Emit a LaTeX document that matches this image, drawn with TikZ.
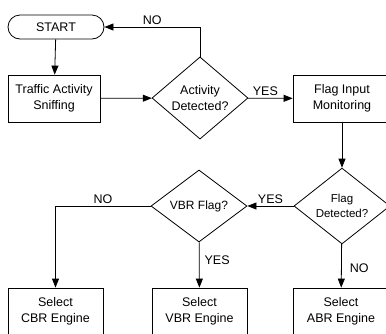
\documentclass[tikz,border=0pt]{standalone}
\usepackage{fontspec}
\setmainfont{Liberation Sans}
\usetikzlibrary{calc, shapes, arrows.meta}

\tikzset{
  flowline/.style={line width=0.8pt, -{Triangle[length=9pt,width=7pt]}},
  procbox/.style={draw, line width=0.8pt, minimum width=95pt, minimum height=47pt, align=center, inner sep=0pt, font=\fontsize{12.5}{16}\selectfont},
  decision/.style={draw, diamond, line width=0.8pt, minimum width=96pt, minimum height=72pt, align=center, inner sep=0pt, font=\fontsize{12.5}{16}\selectfont},
  termbox/.style={draw, rectangle, rounded corners=12pt, line width=0.8pt, minimum width=96pt, minimum height=24pt, inner sep=0pt, font=\fontsize{12.5}{15}\selectfont},
  answer/.style={font=\fontsize{12.5}{15}\selectfont, inner sep=2pt}
}

\begin{document}
\begin{tikzpicture}[x=1pt, y=-1pt]
                    \useasboundingbox (0,0) rectangle (386,333);
                    % blocks
                    \node[termbox] (start) at (56,27) {START};
                    \node[procbox, minimum width=92pt] (sniff) at (54,98.5) {Traffic Activity\\Sniffing};
                    \node[decision] (actdet) at (200,98) {Activity\\Detected?};
                    \node[procbox, minimum width=98pt] (flaginput) at (342,98.5) {Flag Input\\Monitoring};
                    \node[decision, font=\fontsize{11.5}{15}\selectfont] (flagdet) at (342,206) {Flag\\Detected?};
                    \node[decision, font=\fontsize{12}{15}\selectfont] (vbrflag) at (199,206) {VBR Flag?};
                    \node[procbox] (cbr) at (55.5,311.5) {Select\\CBR Engine};
                    \node[procbox] (vbr) at (199.5,311.5) {Select\\VBR Engine};
                    \node[procbox] (abr) at (341,311.5) {Select\\ABR Engine};
                    % connectors
                    \draw[flowline] (start) -- (sniff);
                    \draw[flowline] (sniff) -- (actdet);
                    \draw[flowline] (actdet.north) |- node[answer, pos=0.75, above] (actno) {NO} (start.east);
                    \draw[flowline] (actdet) -- node[answer, midway, above, xshift=-5pt] (actyes) {YES} (flaginput);
                    \draw[flowline] (flaginput) -- (flagdet);
                    \draw[flowline] (flagdet) -- node[answer, midway, above] (flagyes) {YES} (vbrflag);
                    \draw[flowline] (flagdet) -- node[answer, pos=0.55, right, xshift=6pt] (flagno) {NO} (abr);
                    \draw[flowline] (vbrflag.west) -| node[answer, pos=0.25, above] (vbrno) {NO} (cbr.north);
                    \draw[flowline] (vbrflag) -- node[answer, pos=0.4, right, xshift=3pt] (vbryes) {YES} (vbr);
                \end{tikzpicture}
\end{document}
